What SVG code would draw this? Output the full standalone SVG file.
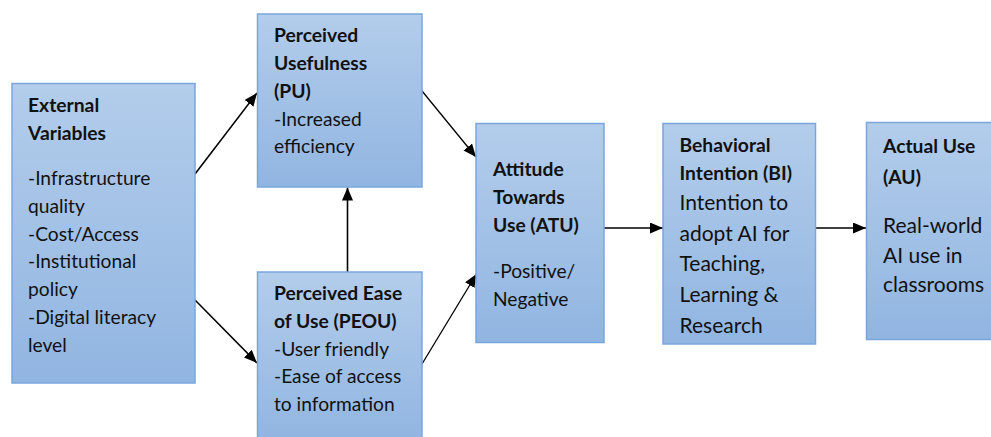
<svg xmlns="http://www.w3.org/2000/svg" width="991" height="437" viewBox="0 0 991 437">
  <defs>
    <linearGradient id="boxFill" x1="0" y1="0" x2="0" y2="1">
      <stop offset="0" stop-color="#B3CDEB"/>
      <stop offset="1" stop-color="#91B5E1"/>
    </linearGradient>
    <marker id="arrow" markerUnits="userSpaceOnUse" markerWidth="14" markerHeight="12" refX="13" refY="5.5" orient="auto">
      <path d="M0,0 L13,5.5 L0,11 z" fill="#000"/>
    </marker>
    <style>
      .box { fill: url(#boxFill); stroke: #7AA7DB; stroke-width: 1.5; }
      .t { font-family: Lato, "Open Sans", "Liberation Sans", sans-serif; fill: #111; }
      .b { font-weight: 700; font-size: 19.3px; }
      .r { font-size: 19.2px; }
      .r2 { font-size: 21px; }
      .conn { stroke: #000; stroke-width: 1.6; fill: none; marker-end: url(#arrow); }
    </style>
  </defs>

  <!-- connectors -->
  <g id="connectors">
    <line class="conn" x1="195" y1="174" x2="257" y2="93"/>
    <line class="conn" x1="195" y1="300" x2="257" y2="363"/>
    <line class="conn" x1="347.5" y1="272" x2="347.5" y2="187.5"/>
    <line class="conn" x1="422" y1="91" x2="476" y2="157" style="stroke-width:1.3"/>
    <line class="conn" x1="422" y1="364" x2="476.5" y2="274" style="stroke-width:1.3"/>
    <line class="conn" x1="604" y1="228" x2="663" y2="228"/>
    <line class="conn" x1="816" y1="228" x2="866" y2="228"/>
  </g>

  <!-- External Variables -->
  <g id="external-variables">
    <rect class="box" x="12" y="83.5" width="183" height="299.5"/>
    <text class="t b" x="28" y="112">External</text>
    <text class="t b" x="28" y="139.5">Variables</text>
    <text class="t r" x="28" y="185">-Infrastructure</text>
    <text class="t r" x="28" y="212.7">quality</text>
    <text class="t r" x="28" y="240.5">-Cost/Access</text>
    <text class="t r" x="28" y="268.3">-Institutional</text>
    <text class="t r" x="28" y="296">policy</text>
    <text class="t r" x="28" y="324">-Digital literacy</text>
    <text class="t r" x="28" y="351.7">level</text>
  </g>

  <!-- Perceived Usefulness -->
  <g id="perceived-usefulness">
    <rect class="box" x="257.5" y="14" width="164.5" height="173"/>
    <text class="t b" x="274" y="42.3">Perceived</text>
    <text class="t b" x="274" y="70">Usefulness</text>
    <text class="t b" x="274" y="97.7">(PU)</text>
    <text class="t r" x="274" y="125.7">-Increased</text>
    <text class="t r" x="274" y="153.3">efficiency</text>
  </g>

  <!-- Perceived Ease of Use -->
  <g id="perceived-ease-of-use">
    <rect class="box" x="257.5" y="272" width="164.5" height="170"/>
    <text class="t b" x="274" y="300">Perceived Ease</text>
    <text class="t b" x="274" y="327.7">of Use (PEOU)</text>
    <text class="t r" x="274" y="355.7">-User friendly</text>
    <text class="t r" x="274" y="383.3">-Ease of access</text>
    <text class="t r" x="274" y="411">to information</text>
  </g>

  <!-- Attitude Towards Use -->
  <g id="attitude-towards-use">
    <rect class="box" x="476" y="123.5" width="128" height="219"/>
    <text class="t b" x="493" y="176.2">Attitude</text>
    <text class="t b" x="493" y="204">Towards</text>
    <text class="t b" x="493" y="232">Use (ATU)</text>
    <text class="t r" x="493" y="277.8">-Positive/</text>
    <text class="t r" x="493" y="305.9">Negative</text>
  </g>

  <!-- Behavioral Intention -->
  <g id="behavioral-intention">
    <rect class="box" x="663" y="123.5" width="152.5" height="220.5"/>
    <text class="t b" x="679.5" y="151.8">Behavioral</text>
    <text class="t b" x="679.5" y="179.6">Intention (BI)</text>
    <text class="t r2" x="679.5" y="210">Intention to</text>
    <text class="t r2" x="679.5" y="240.5">adopt AI for</text>
    <text class="t r2" x="679.5" y="271">Teaching,</text>
    <text class="t r2" x="679.5" y="302">Learning &amp;</text>
    <text class="t r2" x="679.5" y="332.5">Research</text>
  </g>

  <!-- Actual Use -->
  <g id="actual-use">
    <rect class="box" x="866.5" y="122.5" width="130" height="217"/>
    <text class="t b" x="883" y="152.7">Actual Use</text>
    <text class="t b" x="883" y="184">(AU)</text>
    <text class="t r2" x="883" y="233">Real-world</text>
    <text class="t r2" x="883" y="262.5">AI use in</text>
    <text class="t r2" x="883" y="292">classrooms</text>
  </g>
</svg>
